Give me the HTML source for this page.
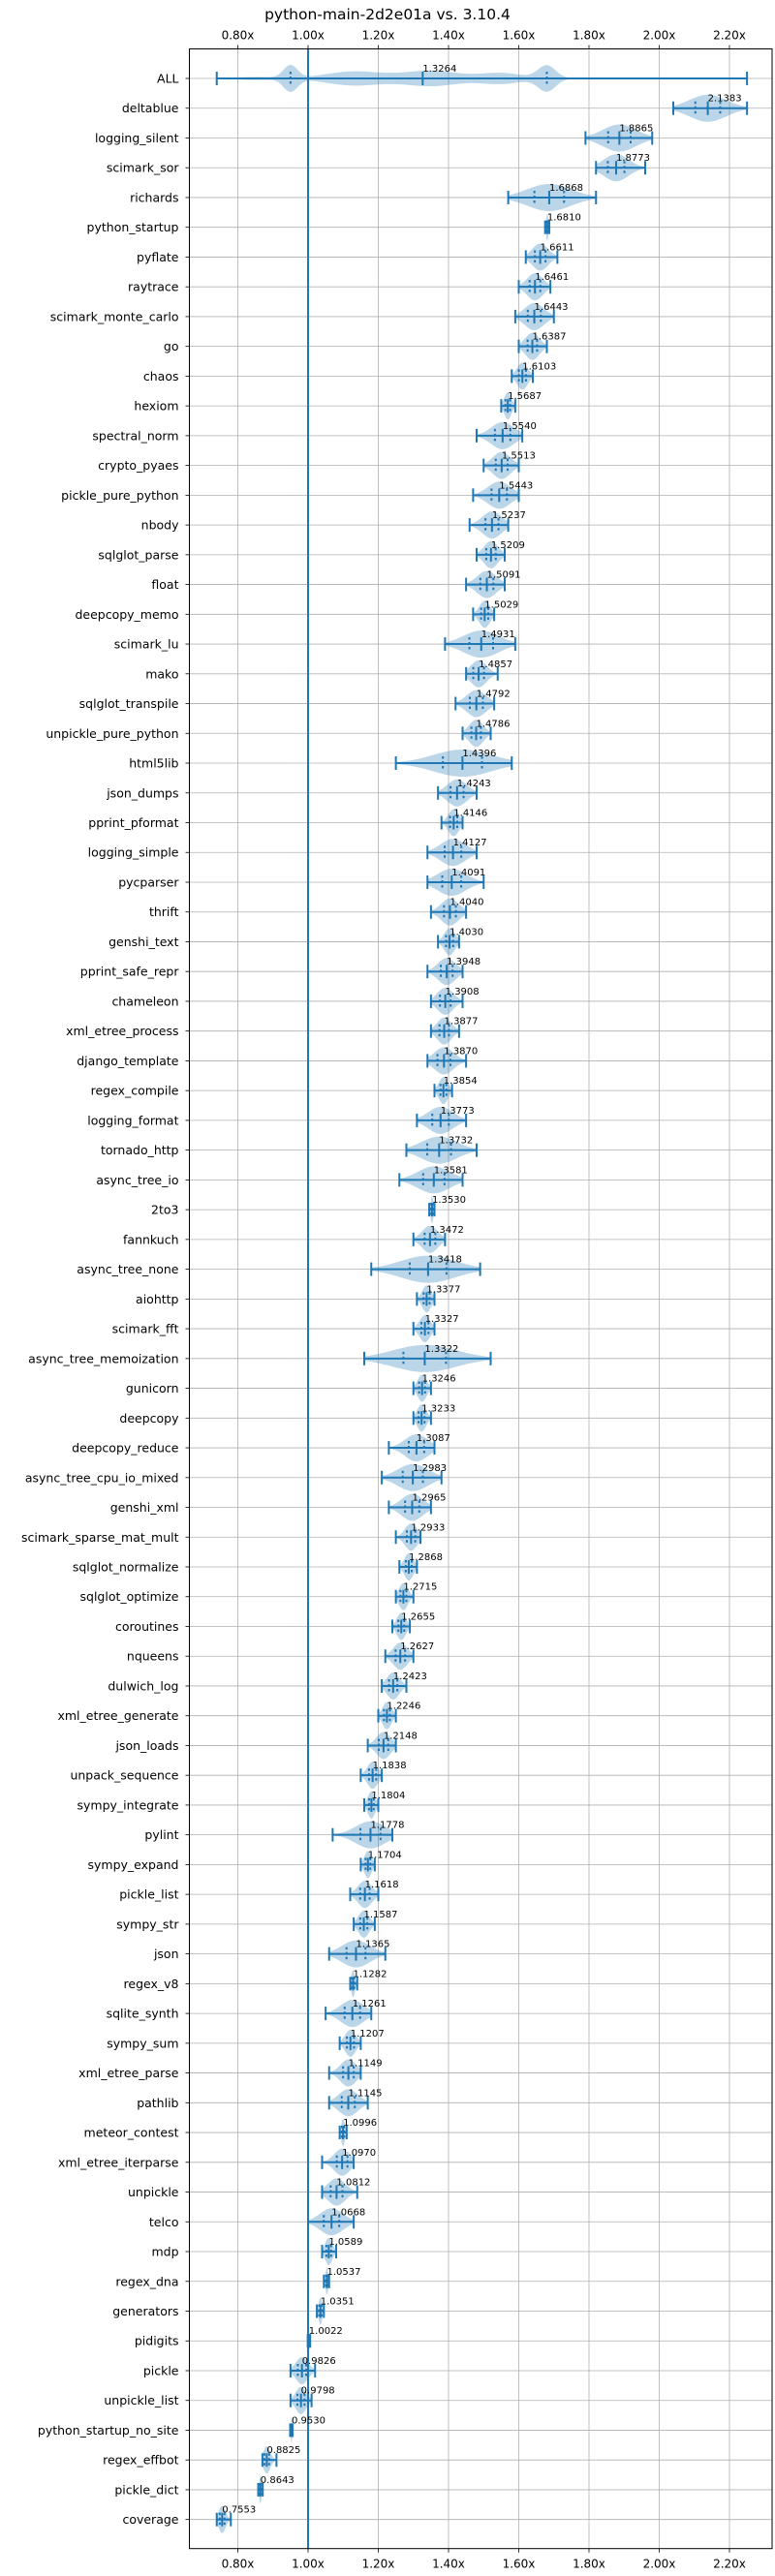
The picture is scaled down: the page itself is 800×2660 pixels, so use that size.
<!DOCTYPE html>
<html><head><meta charset="utf-8"><style>
html,body{margin:0;padding:0;background:#fff;}
svg{display:block;font-family:"DejaVu Sans","Liberation Sans",sans-serif;}
</style></head><body>
<svg id="chart" width="800" height="2660" viewBox="0 0 800 2660" xmlns="http://www.w3.org/2000/svg">
<text x="400" y="20" text-anchor="middle" font-size="15.5">python-main-2d2e01a vs. 3.10.4</text>
<g id="grid"></g><g id="marks"></g><g id="axes"></g>
</svg>
<script>
const names=["ALL","deltablue","logging_silent","scimark_sor","richards","python_startup","pyflate","raytrace","scimark_monte_carlo","go","chaos","hexiom","spectral_norm","crypto_pyaes","pickle_pure_python","nbody","sqlglot_parse","float","deepcopy_memo","scimark_lu","mako","sqlglot_transpile","unpickle_pure_python","html5lib","json_dumps","pprint_pformat","logging_simple","pycparser","thrift","genshi_text","pprint_safe_repr","chameleon","xml_etree_process","django_template","regex_compile","logging_format","tornado_http","async_tree_io","2to3","fannkuch","async_tree_none","aiohttp","scimark_fft","async_tree_memoization","gunicorn","deepcopy","deepcopy_reduce","async_tree_cpu_io_mixed","genshi_xml","scimark_sparse_mat_mult","sqlglot_normalize","sqlglot_optimize","coroutines","nqueens","dulwich_log","xml_etree_generate","json_loads","unpack_sequence","sympy_integrate","pylint","sympy_expand","pickle_list","sympy_str","json","regex_v8","sqlite_synth","sympy_sum","xml_etree_parse","pathlib","meteor_contest","xml_etree_iterparse","unpickle","telco","mdp","regex_dna","generators","pidigits","pickle","unpickle_list","python_startup_no_site","regex_effbot","pickle_dict","coverage"];
const medians=[1.3264,2.1383,1.8865,1.8773,1.6868,1.6810,1.6611,1.6461,1.6443,1.6387,1.6103,1.5687,1.5540,1.5513,1.5443,1.5237,1.5209,1.5091,1.5029,1.4931,1.4857,1.4792,1.4786,1.4396,1.4243,1.4146,1.4127,1.4091,1.4040,1.4030,1.3948,1.3908,1.3877,1.3870,1.3854,1.3773,1.3732,1.3581,1.3530,1.3472,1.3418,1.3377,1.3327,1.3322,1.3246,1.3233,1.3087,1.2983,1.2965,1.2933,1.2868,1.2715,1.2655,1.2627,1.2423,1.2246,1.2148,1.1838,1.1804,1.1778,1.1704,1.1618,1.1587,1.1365,1.1282,1.1261,1.1207,1.1149,1.1145,1.0996,1.0970,1.0812,1.0668,1.0589,1.0537,1.0351,1.0022,0.9826,0.9798,0.9530,0.8825,0.8643,0.7553];
const mins=[0.74,2.04,1.79,1.82,1.57,1.675,1.62,1.60,1.59,1.60,1.58,1.55,1.48,1.50,1.47,1.46,1.48,1.45,1.47,1.39,1.45,1.42,1.44,1.25,1.37,1.38,1.34,1.34,1.35,1.37,1.34,1.35,1.35,1.34,1.36,1.31,1.28,1.26,1.345,1.30,1.18,1.31,1.30,1.16,1.30,1.30,1.23,1.21,1.23,1.25,1.26,1.25,1.24,1.22,1.21,1.20,1.17,1.15,1.16,1.07,1.15,1.12,1.13,1.06,1.12,1.05,1.09,1.06,1.06,1.09,1.04,1.04,1.00,1.04,1.045,1.025,0.999,0.95,0.95,0.949,0.87,0.858,0.74];
const maxs=[2.25,2.25,1.98,1.96,1.82,1.687,1.71,1.69,1.70,1.68,1.64,1.59,1.61,1.60,1.60,1.57,1.56,1.56,1.53,1.59,1.54,1.53,1.52,1.58,1.48,1.44,1.48,1.50,1.45,1.43,1.44,1.44,1.43,1.45,1.41,1.45,1.48,1.44,1.36,1.39,1.49,1.36,1.36,1.52,1.35,1.35,1.36,1.38,1.35,1.32,1.31,1.30,1.29,1.30,1.28,1.25,1.25,1.21,1.20,1.24,1.19,1.20,1.19,1.22,1.14,1.18,1.15,1.15,1.17,1.11,1.13,1.14,1.13,1.08,1.06,1.045,1.006,1.02,1.01,0.956,0.91,0.871,0.78];
const xTicks=[0.8,1.0,1.2,1.4,1.6,1.8,2.0,2.2];
const xTickLabels=["0.80x","1.00x","1.20x","1.40x","1.60x","1.80x","2.00x","2.20x"];
const allQuartiles=[0.95,1.68];
// ALL distribution modes: center, spread, relative height
const allModeCenters=[0.95,0.85,1.13,1.35,1.55,1.68,1.90];
const allModeSpreads=[0.02,0.06,0.08,0.08,0.06,0.025,0.15];
const allModeHeights=[1.0,0.12,0.55,0.6,0.42,1.0,0.04];

const L=195.5,R=797,T=50.5,B=2631.7;
const X0=318,XS=362.5;
function xs(v){return X0+(v-1)*XS;}
const Y0=81,YS=30.74;
function ys(i){return Y0+i*YS;}
const NS="http://www.w3.org/2000/svg";
const C="#1f77b4";
function mk(p,tag,attrs){const e=document.createElementNS(NS,tag);for(const k in attrs)e.setAttribute(k,attrs[k]);p.appendChild(e);return e;}
const grid=document.getElementById('grid'),marks=document.getElementById('marks'),axes=document.getElementById('axes');

xTicks.forEach((t,k)=>{
  const g=mk(grid,'line',{x1:xs(t),x2:xs(t),y1:T,y2:B,stroke:'#b0b0b0','stroke-width':0.8});
  
  
  [[T,T-4,T-10],[B,B+4,B+20]].forEach(([a,b,ty])=>{
    const tk=mk(axes,'line',{x1:xs(t),x2:xs(t),y1:a,y2:b,stroke:'#000','stroke-width':0.8});
    
    
    const tl=mk(axes,'text',{x:xs(t),y:ty,'text-anchor':'middle','font-size':12});
    tl.textContent=xTickLabels[k];
    
    
  });
});
names.forEach((n,i)=>{
  const y=ys(i);
  const g=mk(grid,'line',{x1:L,x2:R,y1:y,y2:y,stroke:'#b0b0b0','stroke-width':0.8});
  
  
  const tk=mk(axes,'line',{x1:L-4,x2:L,y1:y,y2:y,stroke:'#000','stroke-width':0.8});
  
  
  const tl=mk(axes,'text',{x:L-11,y:y+4.5,'text-anchor':'end','font-size':12.5});
  tl.textContent=n;
  
  
});
const frame=mk(axes,'rect',{x:L,y:T,width:R-L,height:B-T,fill:'none',stroke:'#000','stroke-width':1});



const bl=mk(marks,'line',{x1:xs(1),x2:xs(1),y1:T,y2:B,stroke:C,'stroke-width':2});



function dens(i,v){const s=(maxs[i]-mins[i])/4;const z=(v-medians[i])/s;return Math.exp(-z*z/2);}
function allDens(v){let s=0;for(let k=0;k<allModeCenters.length;k++){const z=(v-allModeCenters[k])/allModeSpreads[k];s+=allModeHeights[k]*Math.exp(-z*z/2);}return s;}

names.forEach((n,i)=>{
  const y=ys(i),lo=mins[i],hi=maxs[i],N=i===0?300:60;
  let vals=[];
  for(let k=0;k<=N;k++){const v=lo+(hi-lo)*k/N;vals.push([v,i===0?allDens(v):dens(i,v)]);}
  const mx=Math.max(...vals.map(a=>a[1]));
  const W=14;
  let top=vals.map(([v,d])=>xs(v).toFixed(2)+','+(y-d/mx*W).toFixed(2));
  let bot=vals.slice().reverse().map(([v,d])=>xs(v).toFixed(2)+','+(y+d/mx*W).toFixed(2));
  const vp=mk(marks,'polygon',{points:top.concat(bot).join(' '),fill:C,'fill-opacity':0.3});
  
  
  const wl=mk(marks,'line',{x1:xs(lo),x2:xs(hi),y1:y,y2:y,stroke:C,'stroke-width':2});
  
  
  [lo,hi,medians[i]].forEach(v=>{
    const c=mk(marks,'line',{x1:xs(v),x2:xs(v),y1:y-7,y2:y+7,stroke:C,'stroke-width':2});
    
    
  });
  const s=(hi-lo)/4;
  const qs=i===0?allQuartiles:[medians[i]-0.675*s,medians[i]+0.675*s];
  qs.forEach(v=>{
    const q=mk(marks,'line',{x1:xs(v),x2:xs(v),y1:y-7,y2:y+7,stroke:C,'stroke-width':2,'stroke-dasharray':'2.5,2.5'});
    
    
  });
  const t=mk(marks,'text',{x:xs(medians[i]),y:y-7,'font-size':10});
  t.textContent=medians[i].toFixed(4);
  
  
});
</script>
</body></html>
